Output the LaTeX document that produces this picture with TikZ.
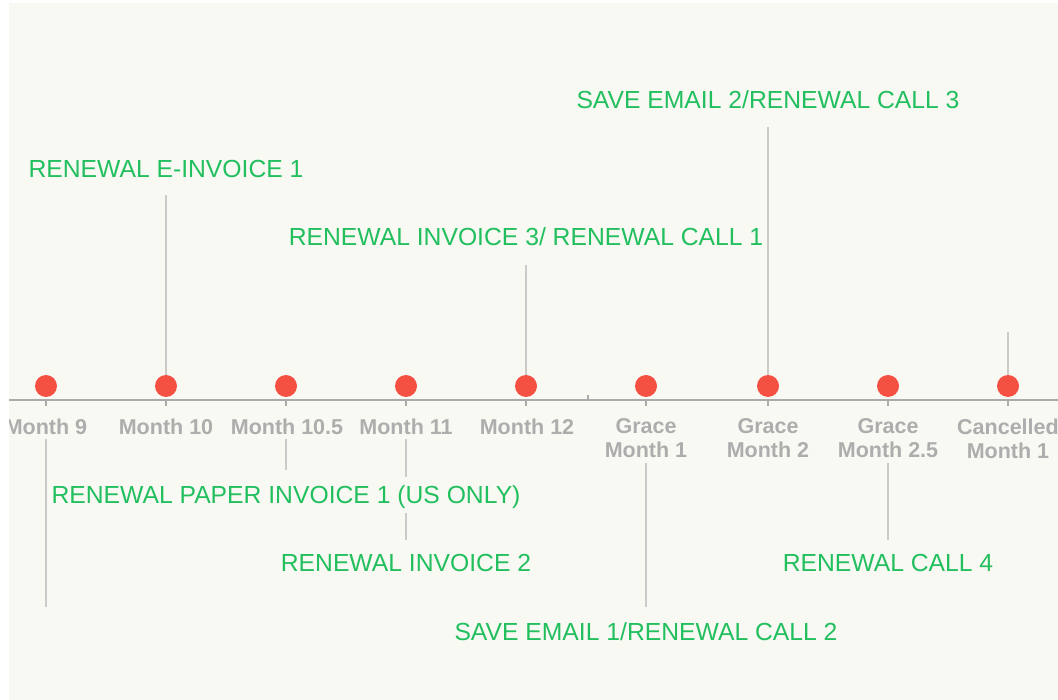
\documentclass[tikz,border=0pt]{standalone}
\usepackage{fontspec}
\setmainfont{Liberation Sans}
\definecolor{bgc}{HTML}{F9F9F3}
\definecolor{dotc}{HTML}{F55142}
\definecolor{grn}{HTML}{22BF5F}
\definecolor{axc}{HTML}{ABABAB}
\definecolor{lnc}{HTML}{CACACA}
\definecolor{mlab}{HTML}{ADADAD}
\pgfdeclarelayer{back}
\pgfdeclarelayer{lines}
\pgfsetlayers{back,lines,main}
\begin{document}
\begin{tikzpicture}[x=1pt,y=-1pt,
  dotn/.style={circle,fill=dotc,minimum size=22pt,inner sep=0pt},
  mlabel/.style={font=\bfseries\fontsize{21.5}{24}\selectfont,text=mlab,align=center,anchor=north,inner sep=0pt},
  evlabel/.style={font=\fontsize{24.7}{28}\selectfont,text=grn,fill=bgc,text height=17.5pt,text depth=0pt,inner ysep=9.4pt,inner xsep=3pt},
  conn/.style={draw=lnc,line width=1.5pt},
  axisline/.style={draw=axc,line width=1.5pt}]
\useasboundingbox (0,0) rectangle (1058,700);
\begin{pgfonlayer}{back}
\fill[white] (0,0) rectangle (1058,700);
\fill[bgc] (9,3) rectangle (1058,700);
\end{pgfonlayer}
\begin{scope}
\clip (9,3) rectangle (1058,700);
% axis
\coordinate (axL) at (9,400);
\coordinate (axR) at (1058,400);
\draw[axisline] (axL) -- (axR);
% dots
\node[dotn] (d9)   at (46,386) {};
\node[dotn] (d10)  at (166,386) {};
\node[dotn] (d105) at (286,386) {};
\node[dotn] (d11)  at (406,386) {};
\node[dotn] (d12)  at (526,386) {};
\node[dotn] (dg1)  at (646,386) {};
\node[dotn] (dg2)  at (768,386) {};
\node[dotn] (dg25) at (888,386) {};
\node[dotn] (dc1)  at (1008,386) {};
% ticks
\foreach \n in {d9,d10,d105,d11,d12,dg1,dg2,dg25,dc1}
  \draw[axisline] (\n |- axL) -- ++(0,6);
\coordinate (mid) at (588,400);
\draw[axisline] (mid) -- ++(0,-5);
% month labels
\node[mlabel] (m9)   at (46,418.5) {Month 9};
\node[mlabel] (m10)  at (166,418.5) {Month 10};
\node[mlabel] (m105) at (287,418.5) {Month 10.5};
\node[mlabel] (m11)  at (406,418.5) {Month 11};
\node[mlabel] (m12)  at (527,418.5) {Month 12};
\node[mlabel] (g1)   at (646,418.5) {Grace\\Month 1};
\node[mlabel] (g2)   at (768,418.5) {Grace\\Month 2};
\node[mlabel] (g25)  at (888,418.5) {Grace\\Month 2.5};
\node[mlabel] (c1)   at (1008,418.5) {Cancelled\\Month 1};
% event labels
\node[evlabel] (e1)     at (166,169) {RENEWAL E-INVOICE 1};
\node[evlabel] (esave2) at (768,100) {SAVE EMAIL 2/RENEWAL CALL 3};
\node[evlabel] (einv3)  at (526,237) {RENEWAL INVOICE 3/ RENEWAL CALL 1};
\node[evlabel] (epaper) at (286,495) {RENEWAL PAPER INVOICE 1 (US ONLY)};
\node[evlabel] (einv2)  at (406,563) {RENEWAL INVOICE 2};
\node[evlabel] (esave1) at (646,632) {SAVE EMAIL 1/RENEWAL CALL 2};
\node[evlabel] (ecall4) at (888,563) {RENEWAL CALL 4};
\coordinate (m9end) at (46,607);
\coordinate (c1top) at (1008,332);
\end{scope}
\begin{pgfonlayer}{lines}
\draw[conn,shorten >=8pt] (d10) -- (e1);
\draw[conn,shorten >=9.5pt] (d12) -- (einv3);
\draw[conn,shorten >=9pt] (dg2) -- (esave2);
\draw[conn] (dc1) -- (c1top);
\draw[conn,shorten <=4.5pt] (m9) -- (m9end);
\draw[conn,shorten <=4.5pt,shorten >=7pt] (d105 |- m105.south) -- (epaper);
\draw[conn,shorten <=4.5pt,shorten >=4.5pt] (m11) -- (einv2);
\draw[conn,shorten <=4.5pt,shorten >=7pt] (g1) -- (esave1);
\draw[conn,shorten <=4.5pt,shorten >=4.5pt] (g25) -- (ecall4);
\end{pgfonlayer}
\end{tikzpicture}
\end{document}
